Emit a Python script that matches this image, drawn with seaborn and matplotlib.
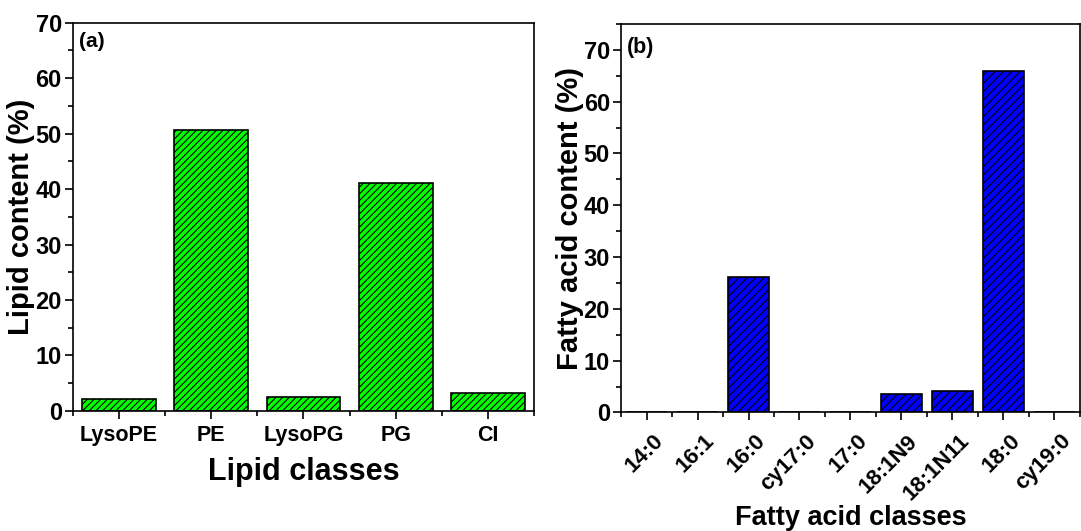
import matplotlib
matplotlib.use("Agg")
import matplotlib.pyplot as plt
from matplotlib.ticker import MultipleLocator, FixedLocator
from matplotlib.transforms import ScaledTranslation
import seaborn as sns
import pandas as pd

# Phospholipid class composition
lipid_classes = ["LysoPE", "PE", "LysoPG", "PG", "CI"]
lipid_content = [2.1, 50.7, 2.6, 41.1, 3.3]

# Fatty acid composition
fatty_acid_classes = ["14:0", "16:1", "16:0", "cy17:0", "17:0",
                      "18:1N9", "18:1N11", "18:0", "cy19:0"]
fatty_acid_content = [0.0, 0.0, 26.2, 0.0, 0.0, 3.5, 4.1, 66.0, 0.0]

sns.set_style("ticks")
plt.rcParams["font.family"] = ["Liberation Sans", "DejaVu Sans"]
plt.rcParams["font.weight"] = "bold"
plt.rcParams["axes.labelweight"] = "bold"
plt.rcParams["text.color"] = "black"
plt.rcParams["axes.labelcolor"] = "black"
plt.rcParams["xtick.color"] = "black"
plt.rcParams["ytick.color"] = "black"
plt.rcParams["hatch.linewidth"] = 0.8
plt.rcParams["hatch.color"] = "black"

fig = plt.figure(figsize=(10.81, 5.31), dpi=100)
ax1 = fig.add_axes([0.0675, 0.226, 0.4265, 0.7316])
ax2 = fig.add_axes([0.5745, 0.2232, 0.4245, 0.7316])

df_lipid = pd.DataFrame({"cls": lipid_classes, "val": lipid_content})
df_fa = pd.DataFrame({"cls": fatty_acid_classes, "val": fatty_acid_content})

sns.barplot(data=df_lipid, x="cls", y="val", color="#00FF00", saturation=1,
            edgecolor="black", linewidth=1.2, width=0.8, ax=ax1)
sns.barplot(data=df_fa, x="cls", y="val", color="#0000FF", saturation=1,
            edgecolor="black", linewidth=1.2, width=0.8, ax=ax2)

for p in ax1.patches:
    p.set_hatch("/////")
for p in ax2.patches:
    p.set_hatch("////")


def style_axis(ax, n, ymax):
    ax.set_xlim(-0.5, n - 0.5)
    ax.set_ylim(0, ymax)
    ax.yaxis.set_major_locator(MultipleLocator(10))
    ax.yaxis.set_minor_locator(MultipleLocator(5))
    ax.xaxis.set_minor_locator(FixedLocator([i + 0.5 for i in range(-1, n)]))
    for s in ax.spines.values():
        s.set_visible(True)
        s.set_linewidth(1.2)
        s.set_color("black")
    ax.tick_params(axis="both", which="major", direction="out", length=6,
                   width=1.2, colors="black", top=False, right=False)
    ax.tick_params(axis="both", which="minor", direction="out", length=3.5,
                   width=1.2, colors="black", top=False, right=False)
    ax.tick_params(axis="y", which="major", labelsize=17, pad=2)
    ax.tick_params(axis="x", which="major", labelsize=15.5, pad=4)
    for lbl in ax.get_xticklabels() + ax.get_yticklabels():
        lbl.set_fontweight("bold")


style_axis(ax1, len(lipid_classes), 70)
style_axis(ax2, len(fatty_acid_classes), 75)
ax2.yaxis.set_major_locator(FixedLocator(list(range(0, 71, 10))))

ax1.set_xlabel("Lipid classes", fontsize=22, fontweight="bold", labelpad=8)
ax1.set_ylabel("Lipid content (%)", fontsize=21, fontweight="bold", labelpad=0)
ax2.set_xlabel("Fatty acid classes", fontsize=19.5, fontweight="bold", labelpad=0)
ax2.set_ylabel("Fatty acid content (%)", fontsize=21, fontweight="bold", labelpad=0)

ax2.tick_params(axis="x", which="major", labelsize=16, pad=7)
shift = ScaledTranslation(6 / 100, 0, fig.dpi_scale_trans)
for lbl in ax2.get_xticklabels():
    lbl.set_rotation(45)
    lbl.set_ha("right")
    lbl.set_rotation_mode("anchor")
    lbl.set_fontweight("bold")
    lbl.set_transform(lbl.get_transform() + shift)

ax1.text(0.013, 0.975, "(a)", transform=ax1.transAxes, fontsize=15,
         fontweight="bold", va="top", ha="left")
ax2.text(0.013, 0.967, "(b)", transform=ax2.transAxes, fontsize=15.5,
         fontweight="bold", va="top", ha="left")

fig.savefig("out.png", dpi=100)
